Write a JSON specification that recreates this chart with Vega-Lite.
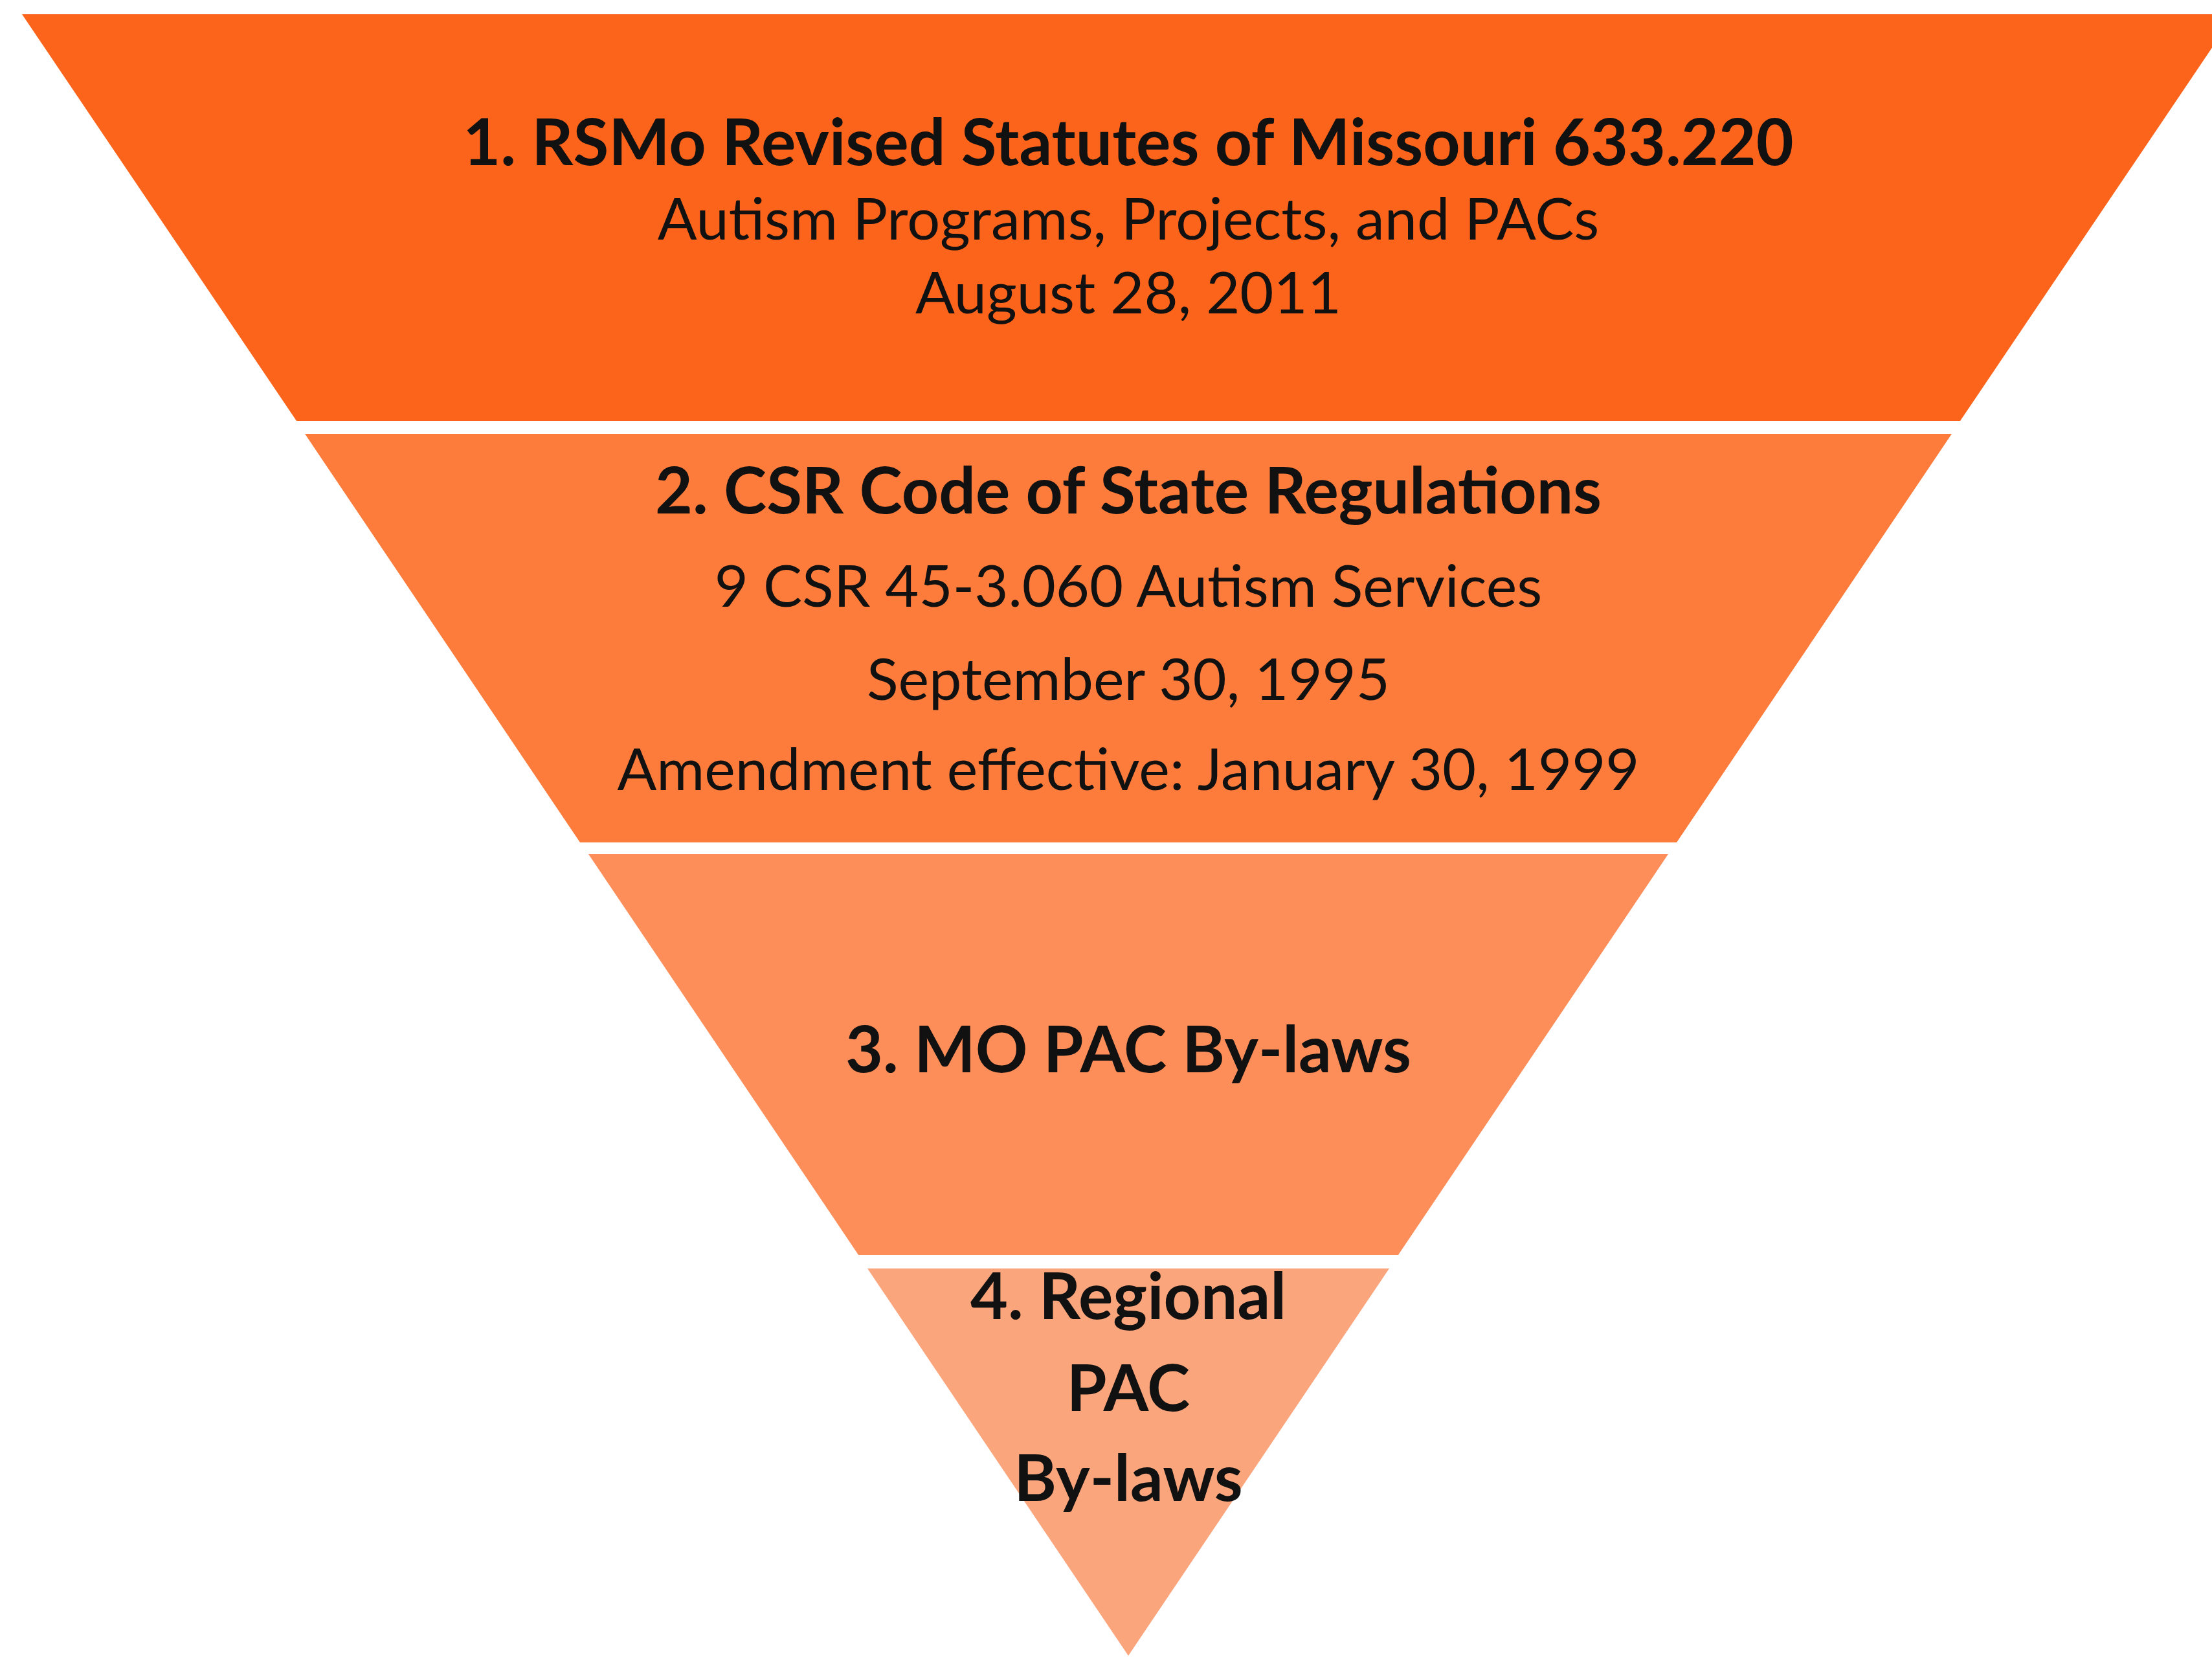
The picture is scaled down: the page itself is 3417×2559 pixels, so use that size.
{
  "$schema": "https://vega.github.io/schema/vega-lite/v6.json",
  "width": 3417,
  "height": 2559,
  "autosize": {"type": "fit", "contains": "padding"},
  "padding": 0,
  "background": "#ffffff",
  "config": {"view": {"stroke": null}},
  "datasets": {
    "shapes": [
      {"sec": "1", "y": 22, "xl": 34, "xr": 3452},
      {"sec": "1", "y": 650, "xl": 458, "xr": 3028},
      {"sec": "2", "y": 670, "xl": 471, "xr": 3015},
      {"sec": "2", "y": 1301, "xl": 896, "xr": 2590},
      {"sec": "3", "y": 1319, "xl": 909, "xr": 2577},
      {"sec": "3", "y": 1938, "xl": 1326, "xr": 2160},
      {"sec": "4", "y": 1959, "xl": 1340, "xr": 2146},
      {"sec": "4", "y": 2557, "xl": 1743, "xr": 1743}
    ],
    "labels": [
      {"kind": "title", "text": "1. RSMo Revised Statutes of Missouri 633.220", "y": 255},
      {"kind": "body", "text": "Autism Programs, Projects, and PACs", "y": 370},
      {"kind": "body", "text": "August 28, 2011", "y": 484},
      {"kind": "title", "text": "2. CSR Code of State Regulations", "y": 793},
      {"kind": "body", "text": "9 CSR 45-3.060 Autism Services", "y": 937},
      {"kind": "body", "text": "September 30, 1995", "y": 1081},
      {"kind": "body", "text": "Amendment effective: January 30, 1999", "y": 1220},
      {"kind": "title", "text": "3. MO PAC By-laws", "y": 1656},
      {"kind": "title", "text": "4. Regional", "y": 2037},
      {"kind": "title", "text": "PAC", "y": 2179},
      {"kind": "title", "text": "By-laws", "y": 2318}
    ]
  },
  "layer": [
    {
      "data": {"name": "shapes"},
      "mark": {"type": "area", "orient": "horizontal", "clip": true},
      "encoding": {
        "y": {"field": "y", "type": "quantitative", "scale": {"domain": [0, 2559], "reverse": true, "nice": false, "zero": false}, "axis": null},
        "x": {"field": "xl", "type": "quantitative", "scale": {"domain": [0, 3417], "nice": false, "zero": false}, "axis": null},
        "x2": {"field": "xr"},
        "color": {"field": "sec", "type": "nominal", "scale": {"domain": ["1", "2", "3", "4"], "range": ["#fd641b", "#fd7b3b", "#fd8e5a", "#fba57c"]}, "legend": null}
      }
    },
    {
      "data": {"name": "labels"},
      "transform": [{"filter": "datum.kind === 'title'"}],
      "mark": {"type": "text", "font": "Lato", "fontWeight": "bold", "fontSize": 100, "align": "center", "baseline": "alphabetic", "color": "#111111"},
      "encoding": {
        "y": {"field": "y", "type": "quantitative"},
        "x": {"datum": 1743},
        "text": {"field": "text"}
      }
    },
    {
      "data": {"name": "labels"},
      "transform": [{"filter": "datum.kind === 'body'"}],
      "mark": {"type": "text", "font": "Lato", "fontWeight": "normal", "fontSize": 90, "align": "center", "baseline": "alphabetic", "color": "#111111"},
      "encoding": {
        "y": {"field": "y", "type": "quantitative"},
        "x": {"datum": 1743},
        "text": {"field": "text"}
      }
    }
  ]
}
